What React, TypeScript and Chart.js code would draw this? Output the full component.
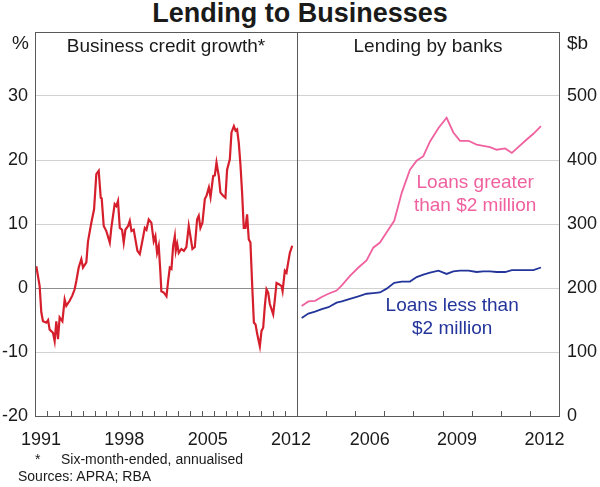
import React, { useEffect, useRef } from "react";
import { Chart, registerables } from "chart.js";

Chart.register(...registerables);

const FONT = '"Liberation Sans", Arial, Helvetica, sans-serif';

// Business credit growth (six-month-ended, annualised), %
const creditDates = [
  1991.11, 1991.39, 1991.53, 1991.67, 1991.95, 1992.1, 1992.23, 1992.51, 1992.65, 1992.79,
  1992.93, 1993.07, 1993.3, 1993.49, 1993.63, 1993.91, 1994.13, 1994.33, 1994.47, 1994.67,
  1994.89, 1995.03, 1995.31, 1995.45, 1995.73, 1995.96, 1996.15, 1996.35, 1996.52, 1996.6,
  1996.77, 1996.99, 1997.28, 1997.41, 1997.69, 1997.83, 1997.97, 1998.12, 1998.31, 1998.45,
  1998.59, 1998.82, 1998.96, 1999.1, 1999.29, 1999.43, 1999.6, 1999.8, 1999.99, 2000.22,
  2000.36, 2000.55, 2000.77, 2000.97, 2001.11, 2001.25, 2001.39, 2001.53, 2001.61, 2001.81,
  2002.04, 2002.18, 2002.32, 2002.46, 2002.6, 2002.74, 2002.82, 2002.94, 2003.07, 2003.29,
  2003.5, 2003.71, 2003.91, 2004.05, 2004.22, 2004.42, 2004.61, 2004.75, 2004.89, 2005.06,
  2005.26, 2005.4, 2005.6, 2005.74, 2005.96, 2006.1, 2006.24, 2006.43, 2006.57, 2006.8,
  2006.99, 2007.13, 2007.36, 2007.5, 2007.7, 2007.84, 2007.97, 2008.11, 2008.25, 2008.39,
  2008.53, 2008.67, 2008.81, 2008.95, 2009.09, 2009.24, 2009.38, 2009.52, 2009.66, 2009.88,
  2010.02, 2010.16, 2010.3, 2010.44, 2010.58, 2010.72, 2011.0, 2011.14, 2011.28, 2011.48,
  2011.7, 2011.79, 2011.98, 2012.12, 2012.26, 2012.4, 2012.6,
];
const creditGrowth = [
  3.4, 0.3, -3.8, -5.2, -5.4, -5.0, -6.5, -7.0, -8.3, -5.2,
  -8.0, -4.6, -5.2, -1.8, -2.8, -2.0, -1.2, -0.2, 1.1, 3.2,
  4.5, 3.2, 4.0, 7.3, 10.2, 12.3, 17.8, 18.3, 14.1, 14.0,
  9.7, 8.9, 7.1, 9.4, 13.1, 12.8, 13.6, 9.4, 9.1, 7.1,
  9.1, 9.7, 10.5, 8.9, 9.1, 7.6, 5.8, 5.3, 7.1, 9.4,
  9.1, 10.7, 10.2, 7.3, 8.1, 5.5, 6.6, 2.4, -0.5, -0.7,
  -1.3, 1.1, 3.2, 3.0, 6.6, 8.1, 5.8, 6.9, 5.5, 6.1,
  5.8, 6.4, 9.7, 8.1, 6.1, 6.4, 10.7, 11.3, 9.4, 10.2,
  13.9, 14.4, 15.7, 14.2, 17.5, 17.6, 19.6, 17.5, 14.9, 14.4,
  14.1, 18.5, 20.1, 24.3, 25.3, 24.6, 24.8, 22.7, 19.3, 14.9,
  9.4, 9.4, 11.5, 7.6, 7.1, 0.3, -5.4, -5.7, -7.2, -9.1,
  -6.7, -6.2, -2.8, -0.2, -0.7, -2.5, -4.1, -1.8, 0.8, 0.6,
  0.3, -0.5, 2.7, 2.4, 4.0, 5.5, 6.6,
];

// Lending by banks, $b
const bankDates = [
  2004.16, 2004.39, 2004.62, 2004.85, 2005.08, 2005.36, 2005.54, 2005.82, 2006.11, 2006.39,
  2006.62, 2006.85, 2007.08, 2007.34, 2007.6, 2007.88, 2008.11, 2008.34, 2008.57, 2008.86,
  2009.14, 2009.37, 2009.6, 2009.89, 2010.17, 2010.4, 2010.63, 2010.86, 2011.15, 2011.38,
  2011.6, 2011.89, 2012.12, 2012.38,
];
const loansOver2m = [
  172, 179, 180, 186, 191, 196, 204, 219, 232, 243,
  263, 271, 287, 305, 349, 385, 399, 406, 429, 450,
  466, 443, 430, 430, 424, 422, 420, 416, 418, 411,
  420, 432, 441, 453,
];
const loansUnder2m = [
  153, 160, 163, 167, 170, 177, 179, 183, 187, 191,
  192, 193, 199, 208, 210, 210, 217, 221, 224, 227,
  222, 226, 227, 227, 225, 226, 226, 225, 225, 228,
  228, 228, 228, 232,
];

const leftYearLabels = [1991, 1998, 2005, 2012];
const rightYearLabels = [2006, 2009, 2012];
const leftYTicks = [-20, -10, 0, 10, 20, 30];
const rightYTicks = [0, 100, 200, 300, 400, 500];

const RED = "#d61f2c";
const PINK = "#f0619f";
const BLUE = "#23359a";
const TEXT = "#1a1a1a";
const FRAME = "#5a5a5a";

type Note = { lines: string[]; x: number; y: number; color: string };

const panelPlugin = {
  id: "panelDecor",
  afterDraw(chart: any, _args: any, opts: any) {
    const { ctx, chartArea: a, scales } = chart;
    const xs = scales.x;
    const ys = scales.y;
    ctx.save();
    // annotations
    ctx.textAlign = "center";
    ctx.textBaseline = "middle";
    ctx.font = `19px ${FONT}`;
    (opts.notes || []).forEach((n: Note) => {
      ctx.fillStyle = n.color;
      const px = xs.getPixelForValue(n.x);
      const py = ys.getPixelForValue(n.y);
      n.lines.forEach((l, i) => ctx.fillText(l, px, py + i * 23));
    });
    // inward year ticks
    ctx.strokeStyle = FRAME;
    ctx.lineWidth = 1;
    for (let yr = Math.ceil(xs.min) + 1; yr < xs.max; yr++) {
      const px = Math.round(xs.getPixelForValue(yr)) + 0.5;
      ctx.beginPath();
      ctx.moveTo(px, a.bottom);
      ctx.lineTo(px, a.bottom - 5);
      ctx.stroke();
    }
    // frame
    ctx.strokeRect(Math.round(a.left) + 0.5, Math.round(a.top) + 0.5, Math.round(a.right - a.left), Math.round(a.bottom - a.top));
    // panel title
    ctx.fillStyle = TEXT;
    ctx.font = `19px ${FONT}`;
    ctx.textAlign = "center";
    ctx.fillText(opts.title, (a.left + a.right) / 2, a.top + 15);
    // unit label
    ctx.textAlign = opts.unitSide === "left" ? "right" : "left";
    const ux = opts.unitSide === "left" ? a.left - 6 : a.right + 8;
    ctx.fillText(opts.unit, ux, a.top + 12);
    ctx.restore();
  },
};

function yearAxis(min: number, max: number, labels: number[]) {
  return {
    type: "linear" as const,
    min,
    max,
    grid: { display: false },
    border: { display: false },
    afterBuildTicks: (s: any) => {
      s.ticks = labels.map((v) => ({ value: v + 0.5 }));
    },
    afterFit: (s: any) => {
      s.height = 71;
    },
    ticks: {
      autoSkip: false,
      maxRotation: 0,
      padding: 5,
      color: TEXT,
      font: { family: FONT, size: 18 },
      callback: (v: any) => String(Math.floor(Number(v))),
    },
  };
}

function valueAxis(position: "left" | "right", min: number, max: number, ticks: number[], width: number, zeroDark: boolean) {
  return {
    type: "linear" as const,
    position,
    min,
    max,
    border: { display: false },
    afterBuildTicks: (s: any) => {
      s.ticks = ticks.map((v) => ({ value: v }));
    },
    afterFit: (s: any) => {
      s.width = width;
    },
    grid: {
      drawTicks: false,
      lineWidth: 1,
      color: (c: any) => (c.tick && c.tick.value === 0 && zeroDark ? "#8e8e8e" : "#d2d2d2"),
    },
    ticks: {
      padding: position === "left" ? 7 : 8,
      color: TEXT,
      font: { family: FONT, size: 18 },
      callback: (v: any) => String(v),
    },
  };
}

export default function App() {
  const leftRef = useRef<HTMLCanvasElement>(null);
  const rightRef = useRef<HTMLCanvasElement>(null);

  useEffect(() => {
    document.body.style.margin = "0";
    const left = new Chart(leftRef.current as HTMLCanvasElement, {
      type: "line",
      data: {
        datasets: [
          {
            data: creditDates.map((d, i) => ({ x: d, y: creditGrowth[i] })),
            borderColor: RED,
            borderWidth: 2.2,
            pointRadius: 0,
            tension: 0,
          },
        ],
      },
      options: {
        responsive: false,
        animation: false,
        layout: { padding: { top: 32, right: 23, left: 0, bottom: 0 } },
        plugins: {
          legend: { display: false },
          tooltip: { enabled: false },
          panelDecor: { title: "Business credit growth*", unit: "%", unitSide: "left", notes: [] },
        } as any,
        scales: {
          x: yearAxis(1991, 2013, leftYearLabels),
          y: valueAxis("left", -20, 40, leftYTicks, 35, true),
        } as any,
      },
      plugins: [panelPlugin],
    });

    const notes: Note[] = [
      { lines: ["Loans greater", "than $2 million"], x: 2010.12, y: 365, color: PINK },
      { lines: ["Loans less than", "$2 million"], x: 2009.33, y: 173, color: BLUE },
    ];

    const right = new Chart(rightRef.current as HTMLCanvasElement, {
      type: "line",
      data: {
        datasets: [
          {
            data: bankDates.map((d, i) => ({ x: d, y: loansOver2m[i] })),
            borderColor: PINK,
            borderWidth: 1.8,
            pointRadius: 0,
            tension: 0,
          },
          {
            data: bankDates.map((d, i) => ({ x: d, y: loansUnder2m[i] })),
            borderColor: BLUE,
            borderWidth: 1.8,
            pointRadius: 0,
            tension: 0,
          },
        ],
      },
      options: {
        responsive: false,
        animation: false,
        layout: { padding: { top: 32, right: 0, left: 17, bottom: 0 } },
        plugins: {
          legend: { display: false },
          tooltip: { enabled: false },
          panelDecor: { title: "Lending by banks", unit: "$b", unitSide: "right", notes },
        } as any,
        scales: {
          x: yearAxis(2004, 2013, rightYearLabels),
          y: valueAxis("right", 0, 600, rightYTicks, 41, false),
        } as any,
      },
      plugins: [panelPlugin],
    });

    return () => {
      left.destroy();
      right.destroy();
    };
  }, []);

  return (
    <div
      style={{
        position: "absolute",
        left: 0,
        top: 0,
        width: 600,
        height: 487,
        background: "#fff",
        overflow: "hidden",
        fontFamily: FONT,
        color: TEXT,
      }}
    >
      <div
        style={{
          position: "absolute",
          left: 0,
          top: 0,
          width: 600,
          textAlign: "center",
          fontWeight: "bold",
          fontSize: 27,
          lineHeight: "27px",
        }}
      >
        Lending to Businesses
      </div>
      <canvas ref={leftRef} width={320} height={487} style={{ position: "absolute", left: 0, top: 0, width: 320, height: 487 }} />
      <canvas ref={rightRef} width={320} height={487} style={{ position: "absolute", left: 280, top: 0, width: 320, height: 487 }} />
      <div style={{ position: "absolute", left: 35, top: 451, fontSize: 14, lineHeight: "16px" }}>*</div>
      <div style={{ position: "absolute", left: 61, top: 451, fontSize: 14, lineHeight: "16px" }}>
        Six-month-ended, annualised
      </div>
      <div style={{ position: "absolute", left: 18, top: 468, fontSize: 14, lineHeight: "16px" }}>
        Sources: APRA; RBA
      </div>
    </div>
  );
}
